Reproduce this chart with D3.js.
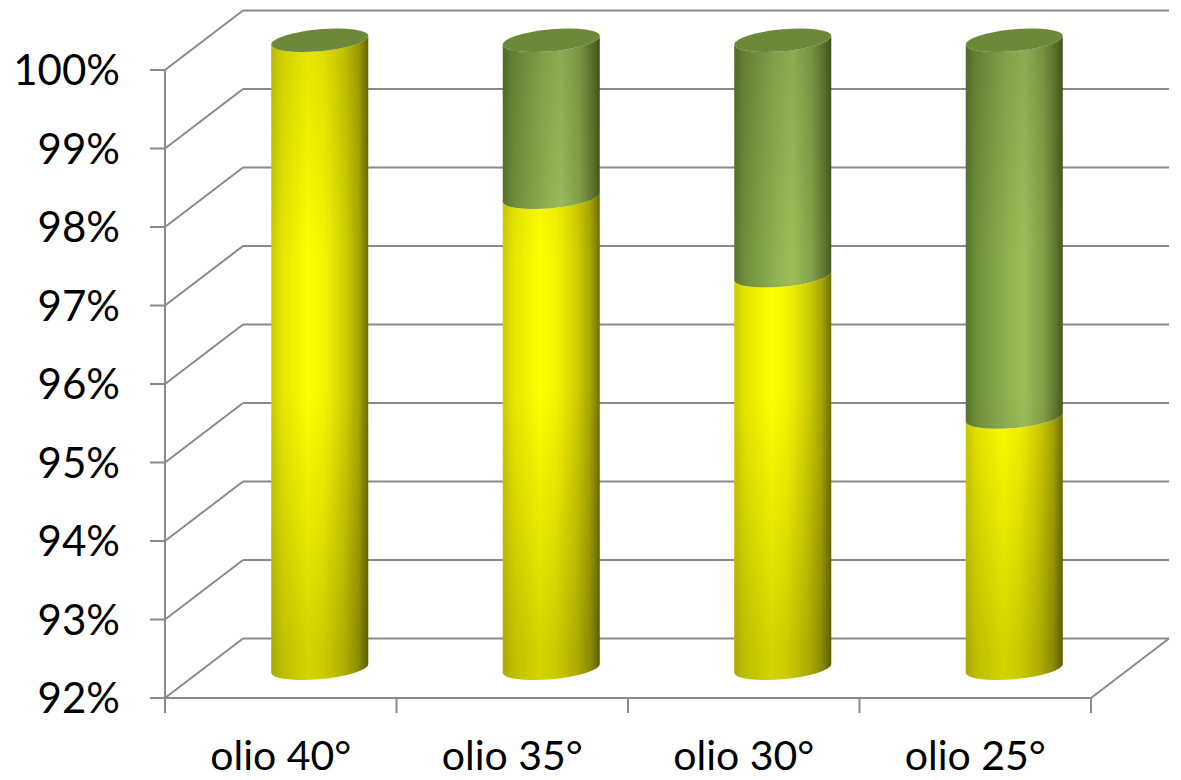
<!DOCTYPE html>
<html><head><meta charset="utf-8">
<script src="https://cdn.jsdelivr.net/npm/d3@7"></script>
<style>
html,body{margin:0;padding:0;background:#fff;}
svg{display:block;}
</style></head>
<body>
<script>
const categories = ["olio 40°", "olio 35°", "olio 30°", "olio 25°"];
const seriesLower = [100, 98.0, 97.0, 95.2];   // yellow (%)
const seriesUpper = [0, 2.0, 3.0, 4.8];        // green (%)
const tickValues = [92, 93, 94, 95, 96, 97, 98, 99, 100];

const W = 1181, H = 780;
const svg = d3.select("body").append("svg").attr("width", W).attr("height", H);

const frontLeft = 165, frontRight = 1091;
const depthX = 78, depthY = -59.5;
const y = d3.scaleLinear().domain([92, 100]).range([698, 70]);
const x = d3.scaleBand().domain(categories).range([frontLeft, frontRight]);

const gridColor = "#8a8a8a";
const defs = svg.append("defs");

function hGrad(id, stops) {
  const g = defs.append("linearGradient").attr("id", id)
    .attr("x1", "0").attr("x2", "1").attr("y1", "0").attr("y2", "0");
  stops.forEach(s => g.append("stop").attr("offset", s[0]).attr("stop-color", s[1]));
}
hGrad("gYellow", [[0, "#cccc00"], [0.12, "#e6e600"], [0.38, "#ffff00"], [0.55, "#f4f400"], [0.75, "#d2d200"], [0.9, "#a8a800"], [1, "#6e6e00"]]);
hGrad("gGreen", [[0, "#58742d"], [0.12, "#71903c"], [0.45, "#92b352"], [0.6, "#9dbd5b"], [0.8, "#82a047"], [0.92, "#627b30"], [1, "#46591f"]]);

const shade = defs.append("linearGradient").attr("id", "gShade")
  .attr("gradientUnits", "userSpaceOnUse").attr("x1", 0).attr("x2", 0)
  .attr("y1", y(100) + depthY / 2 - 12).attr("y2", y(92) + depthY / 2 + 12);
[[0, 0.12], [0.4, 0.0], [0.6, 0.0], [1, 0.17]].forEach(s =>
  shade.append("stop").attr("offset", s[0]).attr("stop-color", "#000").attr("stop-opacity", s[1]));

// ---- walls & grid ----
const grid = svg.append("g").attr("stroke", gridColor).attr("stroke-width", 2).attr("fill", "none");
tickValues.forEach(v => {
  grid.append("line").attr("x1", frontLeft + depthX).attr("x2", frontRight + depthX)
    .attr("y1", y(v) + depthY).attr("y2", y(v) + depthY);
  grid.append("line").attr("x1", frontLeft).attr("x2", frontLeft + depthX)
    .attr("y1", y(v)).attr("y2", y(v) + depthY);
  grid.append("line").attr("x1", frontLeft - 15).attr("x2", frontLeft)
    .attr("y1", y(v)).attr("y2", y(v));
});
grid.append("line").attr("x1", frontRight).attr("x2", frontRight + depthX)
  .attr("y1", y(92)).attr("y2", y(92) + depthY);
grid.append("line").attr("x1", frontLeft).attr("x2", frontRight)
  .attr("y1", y(92)).attr("y2", y(92));
grid.append("line").attr("x1", frontLeft).attr("x2", frontLeft)
  .attr("y1", y(100)).attr("y2", y(92) + 15);
const bounds = categories.map(c => x(c)).concat([frontRight]);
bounds.forEach(b => grid.append("line").attr("x1", b).attr("x2", b)
  .attr("y1", y(92)).attr("y2", y(92) + 15));

// ---- labels ----
svg.append("g").selectAll("text").data(tickValues).join("text")
  .attr("x", 120).attr("y", d => y(d)).attr("dy", "0.36em")
  .attr("text-anchor", "end")
  .attr("font-family", "Lato, 'Open Sans', sans-serif").attr("font-size", 42)
  .attr("fill", "#000").text(d => d + "%");

svg.append("g").selectAll("text").data(categories).join("text")
  .attr("x", d => x(d) + x.bandwidth() / 2).attr("y", 770)
  .attr("text-anchor", "middle")
  .attr("font-family", "Lato, 'Open Sans', sans-serif").attr("font-size", 41)
  .attr("fill", "#000").text(d => d);

// ---- cylinders ----
const rx = 48.5, ry = 11, skew = -5;
function segPath(y0, y1) {
  return `M${-rx},${y1} L${-rx},${y0} A${rx},${ry} 0 0 0 ${rx},${y0} L${rx},${y1} A${rx},${ry} 0 0 1 ${-rx},${y1} Z`;
}
categories.forEach((c, i) => {
  const cx = x(c) + x.bandwidth() / 2 + depthX / 2;
  const oy = depthY / 2;
  const g = svg.append("g").attr("transform", `translate(${cx},${oy}) skewY(${skew})`);
  const base = 92;
  const lowTop = Math.max(base, seriesLower[i]);
  const upTop = seriesLower[i] + seriesUpper[i];
  const segs = [
    { b: base, t: lowTop, fill: "url(#gYellow)" },
    { b: lowTop, t: upTop, fill: "url(#gGreen)" }
  ];
  segs.forEach(s => {
    if (s.t <= s.b) return;
    const d = segPath(y(s.b), y(s.t));
    g.append("path").attr("d", d).attr("fill", s.fill);
    g.append("path").attr("d", d).attr("fill", "url(#gShade)");
  });
  g.append("ellipse").attr("cx", 0).attr("cy", y(upTop)).attr("rx", rx).attr("ry", ry)
    .attr("fill", "#6c8939");
});
</script>
</body></html>
